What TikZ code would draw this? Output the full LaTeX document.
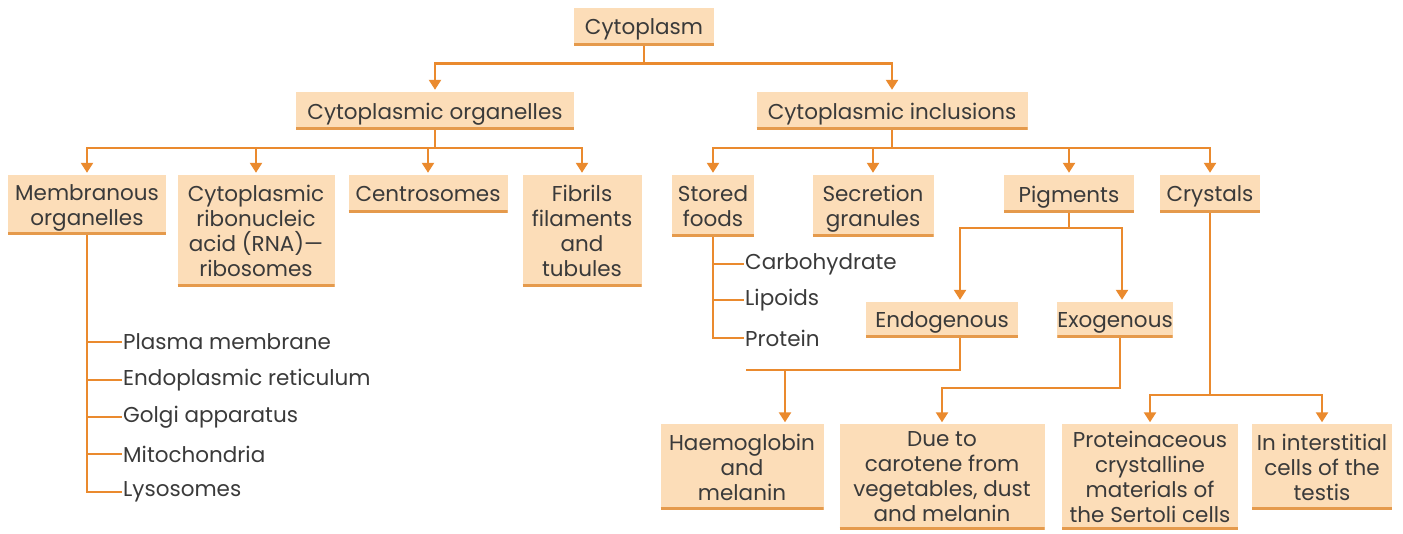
\documentclass[tikz,border=0pt]{standalone}
\usepackage{fontspec}
\setmainfont{Poppins}
\usetikzlibrary{arrows.meta}
\definecolor{boxfill}{HTML}{FCDDB8}
\definecolor{boxline}{HTML}{E59A4C}
\definecolor{conncol}{HTML}{EA8A2E}
\definecolor{txt}{HTML}{3A3A3A}
\tikzset{
  x=1pt, y=-1pt,
  box/.style={fill=boxfill, inner sep=0pt, align=center, text=txt,
    font=\fontsize{21.5}{25}\selectfont, text depth=0pt,
    path picture={\draw[boxline, line width=5pt] (path picture bounding box.south west) -- (path picture bounding box.south east);}},
  item/.style={anchor=west, inner sep=1pt, text=txt, font=\fontsize{21.5}{25}\selectfont},
  conn/.style={draw=conncol, line width=2.4pt},
  arr/.style={conn, -{Triangle[width=12pt,length=10pt]}, shorten >=2pt},
}
\begin{document}
\begin{tikzpicture}
\useasboundingbox (0,0) rectangle (1403,534);
% boxes
\node[box, minimum width=140pt, minimum height=37pt] (cyto) at (644,27) {Cytoplasm};
\node[box, minimum width=278pt, minimum height=38pt] (org) at (435,111) {Cytoplasmic organelles};
\node[box, minimum width=271pt, minimum height=38pt] (inc) at (892,111) {Cytoplasmic inclusions};
\node[box, minimum width=158pt, minimum height=60pt] (mem) at (87,205) {Membranous\\organelles};
\node[box, minimum width=157pt, minimum height=112pt] (rna) at (256,231) {Cytoplasmic\\ribonucleic\\acid (RNA)—\\ribosomes};
\node[box, minimum width=159pt, minimum height=38pt] (cen) at (428,194) {Centrosomes};
\node[box, minimum width=119pt, minimum height=112pt] (fib) at (582,231) {Fibrils\\filaments\\and\\tubules};
\node[box, minimum width=82pt, minimum height=62pt] (sto) at (713,206) {Stored\\foods};
\node[box, minimum width=121pt, minimum height=62pt] (sec) at (873,206) {Secretion\\granules};
\node[box, minimum width=130pt, minimum height=38pt] (pig) at (1069,194) {Pigments};
\node[box, minimum width=100pt, minimum height=38pt] (cry) at (1210,194) {Crystals};
\node[box, minimum width=152pt, minimum height=36pt] (endo) at (942,320) {Endogenous};
\node[box, minimum width=109pt, minimum height=36pt] (exo) at (1115,320) {Exogenous};
\node[box, minimum width=163pt, minimum height=85pt] (hae) at (742,467) {Haemoglobin\\and\\melanin};
\node[box, minimum width=205pt, minimum height=105pt] (due) at (942,477) {Due to\\carotene from\\vegetables, dust\\and melanin};
\node[box, minimum width=176pt, minimum height=105pt] (pro) at (1150,477) {Proteinaceous\\crystalline\\materials of\\the Sertoli cells};
\node[box, minimum width=140pt, minimum height=85pt] (int) at (1322,467) {In interstitial\\cells of the\\testis};
% list items
\node[item] (pm) at (122,342) {Plasma membrane};
\node[item] (er) at (122,380) {Endoplasmic reticulum};
\node[item] (ga) at (122,417) {Golgi apparatus};
\node[item] (mi) at (122,454) {Mitochondria};
\node[item] (ly) at (122,492) {Lysosomes};
\node[item] (carb) at (744,264) {Carbohydrate};
\node[item] (lip) at (744,300) {Lipoids};
\node[item] (prot) at (744,338) {Protein};
% connectors
\draw[arr] (cyto.south) -- ++(0,18) -| (org.north);
\draw[arr] (cyto.south) -- ++(0,18) -| (inc.north);
\foreach \t in {mem,rna,cen,fib}{\draw[arr] (org.south) -- ++(0,18) -| (\t.north);}
\foreach \t in {sto,sec,pig,cry}{\draw[arr] (inc.south) -- ++(0,18) -| (\t.north);}
\draw[conn] (mem.south) |- (ly.west);
\foreach \t in {pm,er,ga,mi}{\draw[conn] (mem.south |- \t.west) -- (\t.west);}
\draw[conn] (sto.south) |- (prot.west);
\foreach \t in {carb,lip}{\draw[conn] (sto.south |- \t.west) -- (\t.west);}
\draw[arr] (pig.south) -- ++(0,15) -| ([xshift=18pt]endo.north);
\draw[arr] (pig.south) -- ++(0,15) -| ([xshift=7pt]exo.north);
\coordinate (endoL) at (746,370);
\draw[conn] ([xshift=18pt]endo.south) |- (endoL);
\draw[arr] (endoL -| hae.north) ++(43,0) -- ([xshift=43pt]hae.north);
\draw[arr] ([xshift=5pt]exo.south) -- ++(0,50) -| (due.north);
\draw[arr] (cry.south) -- ++(0,182) -| (pro.north);
\draw[arr] (cry.south) -- ++(0,182) -| (int.north);
\end{tikzpicture}
\end{document}
